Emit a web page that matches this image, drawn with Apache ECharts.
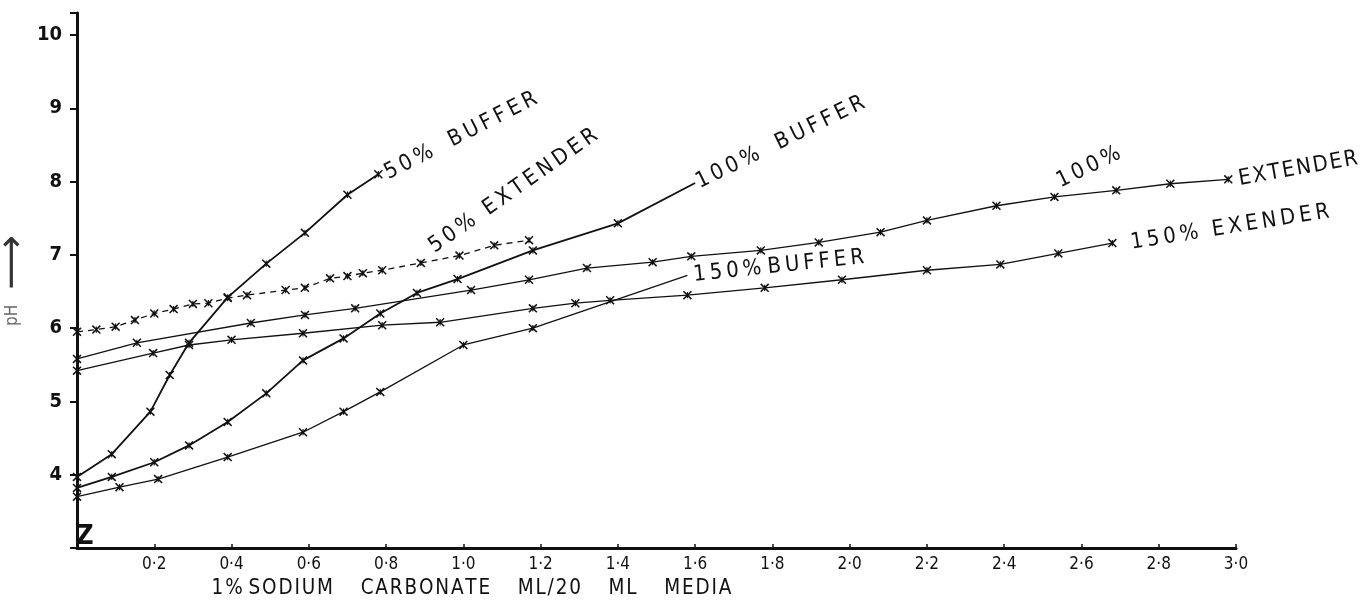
<!DOCTYPE html>
<html>
<head>
<meta charset="utf-8">
<script src="https://cdn.jsdelivr.net/npm/echarts@6/dist/echarts.min.js"></script>
<style>
  html, body { margin: 0; padding: 0; background: #fff; }
  #chart { width: 1366px; height: 609px; }
</style>
</head>
<body>
<div id="chart"></div>
<script>
// Tick labels
const xTickLabels = ['0·2', '0·4', '0·6', '0·8', '1·0', '1·2', '1·4', '1·6', '1·8', '2·0', '2·2', '2·4', '2·6', '2·8', '3·0'];
const yTickLabels = ['4', '5', '6', '7', '8', '9', '10'];

// 50% buffer
const buf50X = [0, 0.09, 0.19, 0.24, 0.29, 0.39, 0.49, 0.59, 0.70, 0.78];
const buf50Y = [3.97, 4.28, 4.86, 5.36, 5.80, 6.42, 6.88, 7.30, 7.82, 8.10];

// 50% extender (dashed)
const ext50X = [0, 0.05, 0.10, 0.15, 0.20, 0.25, 0.30, 0.34, 0.39, 0.44, 0.54, 0.59, 0.655, 0.70, 0.74, 0.79, 0.89, 0.99, 1.08, 1.17];
const ext50Y = [5.95, 5.98, 6.02, 6.11, 6.20, 6.26, 6.33, 6.34, 6.41, 6.45, 6.52, 6.55, 6.68, 6.71, 6.75, 6.79, 6.89, 6.99, 7.13, 7.20];

// 100% buffer
const buf100X = [0, 0.09, 0.20, 0.29, 0.39, 0.49, 0.585, 0.69, 0.785, 0.88, 0.985, 1.18, 1.40, 1.60];
const buf100Y = [3.82, 3.97, 4.17, 4.40, 4.72, 5.11, 5.56, 5.86, 6.20, 6.48, 6.67, 7.06, 7.43, 7.98];

// 150% buffer
const buf150X = [0, 0.11, 0.21, 0.39, 0.585, 0.69, 0.785, 1.00, 1.18, 1.58];
const buf150Y = [3.70, 3.83, 3.94, 4.24, 4.58, 4.86, 5.13, 5.77, 6.00, 6.72];

// 100% extender
const ext100X = [0, 0.155, 0.45, 0.59, 0.72, 1.02, 1.17, 1.32, 1.49, 1.59, 1.77, 1.92, 2.08, 2.20, 2.38, 2.53, 2.69, 2.83, 2.98];
const ext100Y = [5.58, 5.80, 6.07, 6.18, 6.27, 6.52, 6.66, 6.82, 6.90, 6.98, 7.06, 7.17, 7.31, 7.47, 7.67, 7.79, 7.88, 7.97, 8.03];

// 150% extender
const ext150X = [0, 0.197, 0.29, 0.40, 0.585, 0.79, 0.94, 1.18, 1.29, 1.38, 1.58, 1.78, 1.98, 2.20, 2.39, 2.54, 2.68];
const ext150Y = [5.42, 5.66, 5.77, 5.84, 5.93, 6.04, 6.08, 6.27, 6.34, 6.38, 6.45, 6.55, 6.66, 6.79, 6.87, 7.02, 7.16];

const INK = '#111';
const FONT = "'DejaVu Sans Condensed', 'Liberation Sans Narrow', 'DejaVu Sans', sans-serif";

const THIN = '\u2009';
const HAIR = '\u200A';

// hand-lettered look: open up the spacing between characters and words
function spaced(text, sep, wordGap) {
  return text.split(' ').map(function (w) {
    return Array.from(w).join(sep);
  }).join(wordGap || ' ');
}

// x-shaped plotting mark with a short upright stroke
const CROSS = 'path://M0,1.2 L1.2,0 L10,8.8 L8.8,10 Z M8.8,0 L10,1.2 L1.2,10 L0,8.8 Z M4.4,1.5 L5.6,1.5 L5.6,8.5 L4.4,8.5 Z';

function labelCfg(text, rotate, size, sep, wordGap, extra) {
  return Object.assign({
    show: true,
    formatter: spaced(text, sep, wordGap),
    rotate: rotate,
    position: 'right',
    distance: 4,
    align: 'left',
    verticalAlign: 'middle',
    color: INK,
    fontFamily: FONT,
    fontSize: size
  }, extra || {});
}

function buildData(xs, ys, labels, bare) {
  return xs.map(function (x, i) {
    const item = { value: [x, ys[i]] };
    if (labels && labels[i]) item.label = labels[i];
    if (bare && bare.indexOf(i) >= 0) item.symbolSize = 0.01;
    return item;
  });
}

function lineSeries(name, data, width, dashed) {
  return {
    name: name,
    type: 'line',
    data: data,
    symbol: CROSS,
    symbolSize: 9,
    showAllSymbol: true,
    smooth: false,
    silent: true,
    z: 3,
    itemStyle: { color: INK },
    lineStyle: { color: INK, width: width, type: dashed ? [6, 5] : 'solid' },
    label: { show: false },
    labelLayout: { hideOverlap: false }
  };
}

const series = [
  lineSeries('50% BUFFER', buildData(buf50X, buf50Y, {
    9: labelCfg('50% BUFFER', 27, 22, THIN, '\u2003', { distance: 3 })
  }), 1.8, false),
  lineSeries('50% EXTENDER', buildData(ext50X, ext50Y, {
    16: labelCfg('50% EXTENDER', 35, 22, THIN, '\u2002\u2009', { position: [15, -10] })
  }), 1.3, true),
  lineSeries('100% BUFFER', buildData(buf100X, buf100Y, {
    13: labelCfg('100% BUFFER', 26, 22, THIN, '\u2003', { distance: 2 })
  }, [13]), 1.8, false),
  lineSeries('150% BUFFER', buildData(buf150X, buf150Y, {
    9: labelCfg('150% BUFFER', 6, 22, THIN, ' ', { distance: 6 })
  }, [9]), 1.3, false),
  lineSeries('100% EXTENDER', buildData(ext100X, ext100Y, {
    15: labelCfg('100%', 26, 22, THIN, ' ', { position: [8, -10] }),
    18: labelCfg('EXTENDER', 10, 22, HAIR, ' ', { distance: 6 })
  }), 1.3, false),
  lineSeries('150% EXTENDER', buildData(ext150X, ext150Y, {
    16: labelCfg('150% EXENDER', 9, 22, THIN, '\u2002\u2009', { distance: 14 })
  }), 1.3, false)
];

const chart = echarts.init(document.getElementById('chart'), null, { renderer: 'canvas' });

chart.setOption({
  backgroundColor: '#fff',
  animation: false,
  grid: { left: 77, right: 130, top: 13, bottom: 61, containLabel: false, outerBoundsMode: 'none' },
  xAxis: {
    type: 'value',
    min: 0,
    max: 3.0,
    interval: 0.2,
    name: spaced('1% SODIUM', HAIR, ' ') + '\u2003\u2002' +
          spaced('CARBONATE ML/20 ML MEDIA', HAIR, '\u2003\u2002'),
    nameLocation: 'middle',
    nameGap: 30,
    nameMoveOverlap: false,
    nameTextStyle: {
      color: INK, fontFamily: FONT, fontSize: 20.5,
      padding: [0, 370, 0, 0]
    },
    axisLine: { show: true, onZero: false, lineStyle: { color: INK, width: 3 } },
    axisTick: { show: true, inside: true, length: 4, lineStyle: { color: INK, width: 1.5 } },
    axisLabel: {
      color: INK, fontFamily: FONT, fontSize: 17, margin: 8,
      formatter: function (v) {
        const idx = Math.round(v / 0.2) - 1;
        return idx >= 0 && idx < xTickLabels.length ? xTickLabels[idx] : '';
      }
    },
    splitLine: { show: false }
  },
  yAxis: {
    type: 'value',
    min: 3,
    max: 10.3,
    interval: 1,
    name: '{p|pH}{g|\u2003}{a|\u27F6}',
    nameLocation: 'middle',
    nameRotate: 90,
    nameGap: 53,
    nameMoveOverlap: false,
    nameTextStyle: {
      fontFamily: FONT,
      lineHeight: 22,
      rich: {
        p: { color: '#666', fontSize: 17, fontFamily: FONT, lineHeight: 22 },
        g: { fontSize: 17, fontFamily: FONT, lineHeight: 22 },
        a: { color: '#333', fontSize: 38, fontFamily: 'DejaVu Sans', lineHeight: 22 }
      }
    },
    axisLine: { show: true, onZero: false, lineStyle: { color: INK, width: 3 } },
    axisTick: { show: true, inside: false, length: 7, lineStyle: { color: INK, width: 2 } },
    axisLabel: {
      color: INK, fontFamily: FONT, fontSize: 20, fontWeight: 'bold', margin: 15,
      formatter: function (v) {
        const idx = Math.round(v) - 4;
        return Math.abs(v - Math.round(v)) < 1e-6 && idx >= 0 && idx < yTickLabels.length ? yTickLabels[idx] : '';
      }
    },
    splitLine: { show: false }
  },
  series: series
});

// axis-break mark at the foot of the pH axis
const foot = chart.convertToPixel({ gridIndex: 0 }, [0, 3]);
chart.setOption({
  graphic: [{
    type: 'text',
    left: foot[0] - 1,
    top: foot[1] - 25,
    style: { text: 'Z', fill: INK, font: 'bold 27px ' + FONT }
  }]
});
</script>
</body>
</html>
